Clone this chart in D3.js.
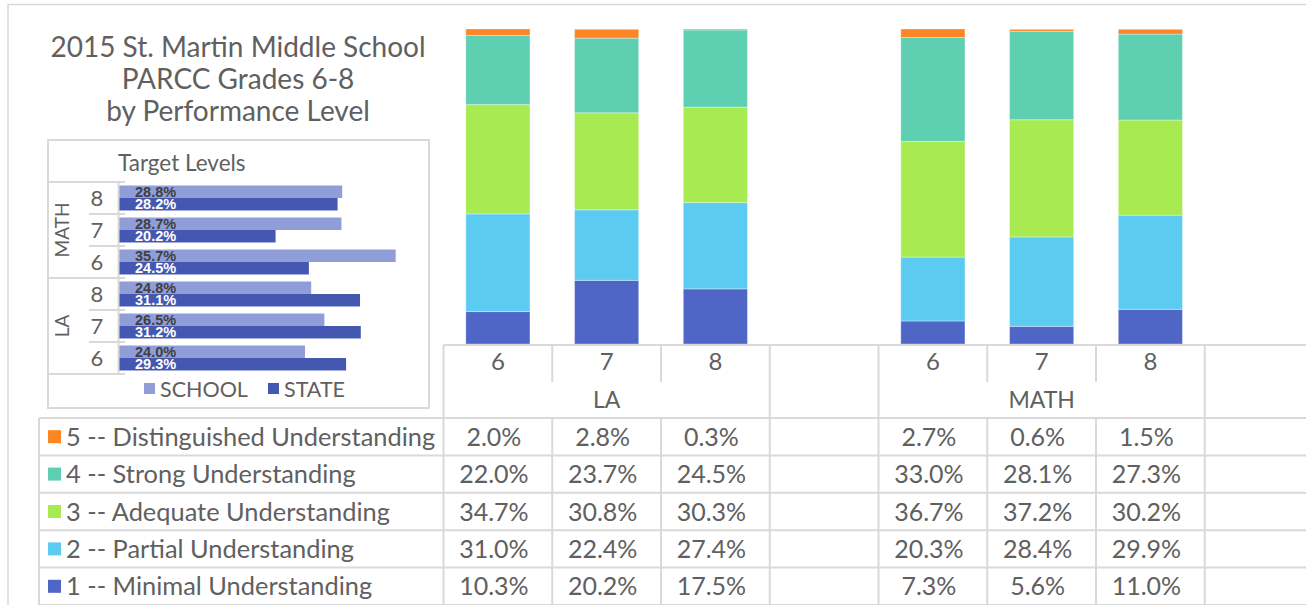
<!DOCTYPE html>
<html>
<head>
<meta charset="utf-8">
<script src="https://cdn.jsdelivr.net/npm/d3@7"></script>
<style>
  html, body { margin: 0; padding: 0; background: #fff; }
  svg { display: block; }
</style>
</head>
<body>
<svg id="chart" width="1306" height="605"></svg>
<script>
// ---------------- DATA ----------------
const titleLines = ["2015 St. Martin Middle School", "PARCC Grades 6-8", "by Performance Level"];
const groups = ["LA", "MATH"];
const grades = ["6", "7", "8"];
// 8 category slots: LA 6,7,8, spacer, MATH 6,7,8, spacer
const categories = ["LA-6", "LA-7", "LA-8", "LA-gap", "MATH-6", "MATH-7", "MATH-8", "MATH-gap"];
const levels = [
  "5 -- Distinguished Understanding",
  "4 -- Strong Understanding",
  "3 -- Adequate Understanding",
  "2 -- Partial Understanding",
  "1 -- Minimal Understanding"
];
const distinguished = [2.0, 2.8, 0.3, null, 2.7, 0.6, 1.5, null];
const strong        = [22.0, 23.7, 24.5, null, 33.0, 28.1, 27.3, null];
const adequate      = [34.7, 30.8, 30.3, null, 36.7, 37.2, 30.2, null];
const partial       = [31.0, 22.4, 27.4, null, 20.3, 28.4, 29.9, null];
const minimal       = [10.3, 20.2, 17.5, null, 7.3, 5.6, 11.0, null];
const levelColors = ["#fd8524", "#5ecfb1", "#a8ea51", "#5ccbf2", "#4f66c7"];

// inset "Target Levels" chart
const insetTitle = "Target Levels";
const insetCats = ["MATH-8", "MATH-7", "MATH-6", "LA-8", "LA-7", "LA-6"];
const insetSchool = [28.8, 28.7, 35.7, 24.8, 26.5, 24.0];
const insetState  = [28.2, 20.2, 24.5, 31.1, 31.2, 29.3];
const insetSeries = ["SCHOOL", "STATE"];
const insetColors = ["#8f9dd8", "#4458b2"];

// ---------------- DRAW ----------------
const FONT = "Lato, 'Open Sans', sans-serif";
const TXT = "#606060";
const GRID = "#d9d9d9";
const svg = d3.select("#chart");

// outer frame
svg.append("line").attr("x1", 8).attr("x2", 1306).attr("y1", 4.5).attr("y2", 4.5).attr("stroke", GRID).attr("stroke-width", 1.5);
svg.append("line").attr("x1", 8).attr("x2", 8).attr("y1", 4).attr("y2", 605).attr("stroke", GRID).attr("stroke-width", 1.5);

// main scales
const x = d3.scaleBand().domain(categories).range([443.5, 443.5 + 108.75 * 8]).paddingInner(0.41).paddingOuter(0.205);
const xCol = d3.scaleBand().domain(categories).range([443.5, 443.5 + 108.75 * 8]);
const y = d3.scaleLinear().domain([0, 100]).range([344, 29]);

const seriesArrays = [minimal, partial, adequate, strong, distinguished];
const seriesColors = [levelColors[4], levelColors[3], levelColors[2], levelColors[1], levelColors[0]];
const rows = categories.map((c, i) => {
  const o = { cat: c };
  seriesArrays.forEach((arr, k) => o["s" + k] = arr[i] == null ? 0 : arr[i]);
  return o;
});
const stack = d3.stack().keys(seriesArrays.map((a, k) => "s" + k))(rows);

stack.forEach((layer, k) => {
  svg.append("g").selectAll("rect").data(layer.filter(d => d[1] > d[0])).join("rect")
    .attr("x", d => x(d.data.cat))
    .attr("width", x.bandwidth())
    .attr("y", d => y(d[1]))
    .attr("height", d => y(d[0]) - y(d[1]))
    .attr("fill", seriesColors[k])
    .attr("stroke", "rgba(255,255,255,0.35)")
    .attr("stroke-width", 1);
});

// ---------- data table ----------
const tableTop = 345, headMid = 382, headBot = 418, rowH = 37.4;
const gridG = svg.append("g").attr("stroke", GRID).attr("stroke-width", 2);
const colEdges = d3.range(0, 9).map(i => i < 8 ? xCol(categories[i]) : xCol(categories[7]) + xCol.bandwidth());
gridG.append("line").attr("x1", colEdges[0]).attr("x2", 1306).attr("y1", tableTop).attr("y2", tableTop);
for (let r = 0; r <= 5; r++) {
  const yy = headBot + r * rowH;
  gridG.append("line").attr("x1", 39).attr("x2", 1306).attr("y1", yy).attr("y2", yy);
}
gridG.append("line").attr("x1", 39).attr("x2", 39).attr("y1", headBot).attr("y2", 605);
colEdges.forEach((cx, i) => {
  const full = (i % 4 === 0) || (i % 4 === 3);
  if (full) {
    gridG.append("line").attr("x1", cx).attr("x2", cx).attr("y1", tableTop).attr("y2", 605);
  } else {
    gridG.append("line").attr("x1", cx).attr("x2", cx).attr("y1", tableTop).attr("y2", headMid);
    gridG.append("line").attr("x1", cx).attr("x2", cx).attr("y1", headBot).attr("y2", 605);
  }
});

// header labels
categories.forEach((c, i) => {
  const g = c.split("-")[1];
  if (grades.includes(g)) {
    svg.append("text").attr("x", xCol(c) + xCol.bandwidth() / 2).attr("y", 362)
      .attr("dy", "0.35em").attr("text-anchor", "middle")
      .attr("font-family", FONT).attr("font-size", 24).attr("fill", TXT).text(g);
  }
});
groups.forEach(gname => {
  const first = xCol(gname + "-6"), last = xCol(gname + "-8") + xCol.bandwidth();
  svg.append("text").attr("x", (first + last) / 2).attr("y", 400)
    .attr("dy", "0.35em").attr("text-anchor", "middle")
    .attr("font-family", FONT).attr("font-size", 23).attr("fill", TXT).text(gname);
});

// rows
const tableSeries = [distinguished, strong, adequate, partial, minimal];
levels.forEach((lab, r) => {
  const cy = headBot + r * rowH + rowH / 2;
  svg.append("rect").attr("x", 48).attr("y", cy - 6.5).attr("width", 13).attr("height", 13).attr("fill", levelColors[r]);
  svg.append("text").attr("class", "leglab").attr("x", 66).attr("y", cy).attr("dy", "0.36em")
    .attr("font-family", FONT).attr("font-size", 25.4).attr("fill", TXT).text(lab);
  tableSeries[r].forEach((v, i) => {
    if (v == null) return;
    svg.append("text").attr("x", xCol(categories[i]) + xCol.bandwidth() / 2 - 4).attr("y", cy).attr("dy", "0.36em")
      .attr("text-anchor", "middle").attr("font-family", FONT).attr("font-size", 25).attr("fill", TXT)
      .text(v.toFixed(1) + "%");
  });
});

// ---------- title ----------
titleLines.forEach((t, i) => {
  svg.append("text").attr("x", 238).attr("y", 47 + i * 32).attr("dy", "0.36em")
    .attr("text-anchor", "middle").attr("font-family", FONT).attr("font-size", 28).attr("fill", TXT).text(t);
});

// ---------- inset chart ----------
svg.append("rect").attr("x", 48).attr("y", 140).attr("width", 381).attr("height", 268)
  .attr("fill", "#fff").attr("stroke", GRID).attr("stroke-width", 2);
svg.append("text").attr("x", 118).attr("y", 163).attr("dy", "0.36em").attr("text-anchor", "start")
  .attr("font-family", FONT).attr("font-size", 22.5).attr("fill", TXT).text(insetTitle);

const ix = d3.scaleLinear().domain([0, 40]).range([119, 429]);
const iy = d3.scaleBand().domain(insetCats).range([182, 374]).paddingInner(0.22).paddingOuter(0.11);
const iySub = d3.scaleBand().domain(insetSeries).range([0, iy.bandwidth()]);
const insetVals = [insetSchool, insetState];

insetSeries.forEach((s, k) => {
  svg.append("g").selectAll("rect").data(insetCats).join("rect")
    .attr("x", ix(0))
    .attr("y", (c) => iy(c) + iySub(s))
    .attr("width", (c, i) => ix(insetVals[k][i]) - ix(0))
    .attr("height", iySub.bandwidth())
    .attr("fill", insetColors[k]);
});
insetSeries.forEach((s, k) => {
  svg.append("g").selectAll("text").data(insetCats).join("text")
    .attr("x", 135)
    .attr("y", (c) => iy(c) + iySub(s) + iySub.bandwidth() / 2 + (k === 0 ? 0.5 : -0.5))
    .attr("dy", "0.36em")
    .attr("font-family", "'Liberation Sans', Arial, sans-serif").attr("font-weight", "bold").attr("font-size", 14.5)
    .attr("fill", k === 0 ? "#404040" : "#ffffff")
    .text((c, i) => insetVals[k][i].toFixed(1) + "%");
});

// inset category axis
const iStep = iy.step();
const axG = svg.append("g").attr("stroke", GRID).attr("stroke-width", 2);
axG.append("line").attr("x1", 118.5).attr("x2", 118.5).attr("y1", 182).attr("y2", 374);
insetCats.forEach((c, i) => {
  const top = iy(c) - iy.paddingOuter() * iStep;
  const isGroupEdge = i % 3 === 0;
  axG.append("line").attr("x1", isGroupEdge ? 48 : 89).attr("x2", 125).attr("y1", top).attr("y2", top);
  svg.append("text").attr("x", 97).attr("y", top + iStep / 2).attr("dy", "0.36em").attr("text-anchor", "middle")
    .attr("font-family", FONT).attr("font-size", 22).attr("fill", TXT).text(c.split("-")[1]);
});
axG.append("line").attr("x1", 48).attr("x2", 125).attr("y1", 374).attr("y2", 374);
groups.forEach((gname, gi) => {
  const cy = gi === 0 ? 326 : 230;
  svg.append("text").attr("transform", `translate(62,${cy}) rotate(-90)`).attr("dy", "0.36em")
    .attr("text-anchor", "middle").attr("font-family", FONT).attr("font-size", 19).attr("fill", TXT).text(gname);
});

// inset legend
const legX = [144, 268];
insetSeries.forEach((s, k) => {
  svg.append("rect").attr("x", legX[k]).attr("y", 383).attr("width", 11).attr("height", 11).attr("fill", insetColors[k]);
  svg.append("text").attr("x", legX[k] + 16).attr("y", 389).attr("dy", "0.36em")
    .attr("font-family", FONT).attr("font-size", 21.5).attr("fill", TXT).text(s);
});
</script>
</body>
</html>
